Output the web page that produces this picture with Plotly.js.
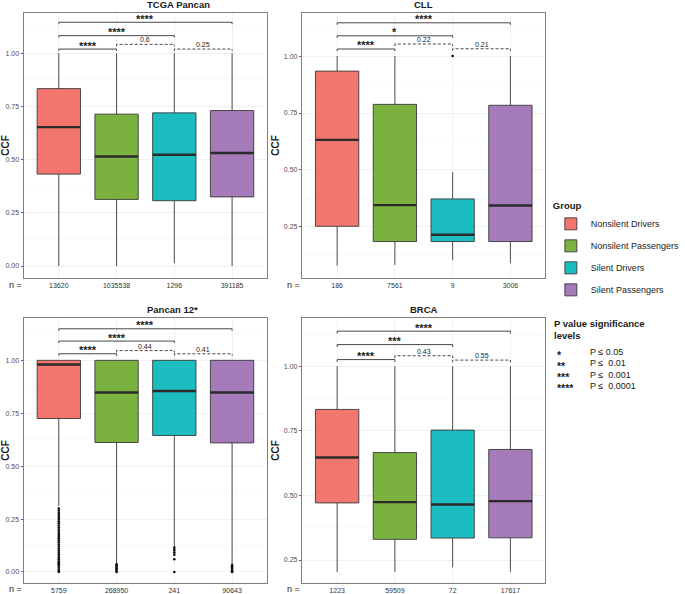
<!DOCTYPE html>
<html>
<head>
<meta charset="utf-8">
<script src="https://cdn.plot.ly/plotly-3.0.1.min.js"></script>
<style>html,body{margin:0;padding:0;background:#fff;}#chart{width:685px;height:594px;}</style>
</head>
<body>
<div id="chart"></div>
<script>
// ---------- data ----------
const groups = ['Nonsilent Drivers', 'Nonsilent Passengers', 'Silent Drivers', 'Silent Passengers'];
const groupColors = ['#F2766E', '#7BB13E', '#1BBDC1', '#A57BB9'];
const panelTitles = ['TCGA Pancan', 'CLL', 'Pancan 12*', 'BRCA'];

// TCGA Pancan
const tcgaN = ['13620', '1035538', '1296', '391185'];
const tcgaLow = [0.0, 0.0, 0.013, 0.0];
const tcgaQ1 = [0.432, 0.313, 0.307, 0.325];
const tcgaMedian = [0.653, 0.515, 0.523, 0.531];
const tcgaQ3 = [0.834, 0.714, 0.720, 0.731];
const tcgaHigh = [1.0, 1.0, 1.0, 1.0];
const tcgaOutliers = [[], [], [], []];
const tcgaBracketY = [1.020, 1.083, 1.146, 1.042, 1.020];
const tcgaBracketLabel = ['****', '****', '****', '0.6', '0.25'];

// CLL
const cllN = ['186', '7561', '9', '3006'];
const cllLow = [0.080, 0.083, 0.104, 0.091];
const cllQ1 = [0.253, 0.186, 0.186, 0.186];
const cllMedian = [0.632, 0.346, 0.216, 0.344];
const cllQ3 = [0.934, 0.788, 0.373, 0.784];
const cllHigh = [1.0, 1.0, 0.491, 1.0];
const cllOutliers = [[], [], [1.0], []];
const cllBracketY = [1.031, 1.089, 1.146, 1.053, 1.032];
const cllBracketLabel = ['****', '*', '****', '0.22', '0.21'];

// Pancan 12*
const p12N = ['5759', '268950', '241', '90643'];
const p12Low = [0.311, 0.040, 0.120, 0.036];
const p12Q1 = [0.725, 0.612, 0.645, 0.610];
const p12Median = [0.980, 0.848, 0.855, 0.848];
const p12Q3 = [1.0, 1.0, 1.0, 1.0];
const p12High = [1.0, 1.0, 1.0, 1.0];
const p12OutND = [0.30, 0.29, 0.28, 0.27, 0.26, 0.25, 0.24, 0.23, 0.22, 0.21, 0.20, 0.19, 0.18, 0.17, 0.16, 0.15, 0.14, 0.13, 0.12, 0.11, 0.10, 0.09, 0.08, 0.07, 0.06, 0.05, 0.045, 0.04, 0.035, 0.03, 0.02, 0.01, 0.005, 0.0];
const p12OutNP = [0.036, 0.030, 0.024, 0.018, 0.012, 0.006, 0.0];
const p12OutSD = [0.115, 0.104, 0.093, 0.082, 0.060, 0.0];
const p12OutSP = [0.033, 0.027, 0.021, 0.015, 0.009, 0.004, 0.0];
const p12Outliers = [p12OutND, p12OutNP, p12OutSD, p12OutSP];
const p12BracketY = [1.031, 1.091, 1.149, 1.046, 1.031];
const p12BracketLabel = ['****', '****', '****', '0.44', '0.41'];

// BRCA
const brcaN = ['1223', '59509', '72', '17617'];
const brcaLow = [0.204, 0.204, 0.222, 0.204];
const brcaQ1 = [0.471, 0.330, 0.335, 0.336];
const brcaMedian = [0.647, 0.474, 0.465, 0.478];
const brcaQ3 = [0.833, 0.666, 0.753, 0.678];
const brcaHigh = [1.0, 1.0, 1.0, 1.0];
const brcaOutliers = [[], [], [], []];
const brcaBracketY = [1.026, 1.084, 1.136, 1.041, 1.024];
const brcaBracketLabel = ['****', '***', '****', '0.43', '0.55'];

// bracket pairs (group indices), shared by all panels
const bracketFrom = [0, 0, 0, 1, 2];
const bracketTo = [1, 2, 3, 2, 3];

// significance legend
const sigStars = ['*', '**', '***', '****'];
const sigText = ['P \u2264 0.05', 'P \u2264  0.01', 'P \u2264  0.001', 'P \u2264  0.0001'];

// ---------- layout constants (styling only) ----------
const W = 685, H = 594;
const FONT = 'Liberation Sans, Arial, Helvetica, sans-serif';
const xDom = [[25, 276], [313, 564], [25, 276], [313, 564]];
const yDomPx = [[13, 278], [13, 278], [318, 583], [318, 583]];
const nLabelY = [285, 285, 589, 589];
const yRanges = [[-0.0564, 1.1895], [0.026, 1.189], [-0.052, 1.200], [0.161, 1.187]];
const BOXW = 0.75, TIP = 0.009;

const panels = [
  {n: tcgaN, low: tcgaLow, q1: tcgaQ1, med: tcgaMedian, q3: tcgaQ3, high: tcgaHigh, out: tcgaOutliers, by: tcgaBracketY, bl: tcgaBracketLabel},
  {n: cllN, low: cllLow, q1: cllQ1, med: cllMedian, q3: cllQ3, high: cllHigh, out: cllOutliers, by: cllBracketY, bl: cllBracketLabel},
  {n: p12N, low: p12Low, q1: p12Q1, med: p12Median, q3: p12Q3, high: p12High, out: p12Outliers, by: p12BracketY, bl: p12BracketLabel},
  {n: brcaN, low: brcaLow, q1: brcaQ1, med: brcaMedian, q3: brcaQ3, high: brcaHigh, out: brcaOutliers, by: brcaBracketY, bl: brcaBracketLabel}
];

const traces = [];
const annotations = [];
const layout = {
  width: W, height: H,
  margin: {l: 0, r: 0, t: 0, b: 0},
  paper_bgcolor: '#ffffff', plot_bgcolor: '#ffffff',
  font: {family: FONT, color: '#1a1a1a'},
  showlegend: true,
  legend: {
    x: 570 / W, xanchor: 'left', y: 1 - 197 / H, yanchor: 'top',
    title: {text: '<b>Group</b>', font: {size: 9.5, color: '#1a1a1a'}},
    font: {size: 9, color: '#1a1a1a'},
    tracegroupgap: 3, bgcolor: 'rgba(0,0,0,0)'
  },
  annotations: annotations
};

panels.forEach((p, k) => {
  const ax = k === 0 ? '' : String(k + 1);
  const xr = 'x' + ax, yr = 'y' + ax;
  // boxes
  groups.forEach((g, i) => {
    traces.push({
      type: 'box', name: g, x: [i], xaxis: xr, yaxis: yr,
      q1: [p.q1[i]], median: [p.med[i]], q3: [p.q3[i]],
      lowerfence: [p.low[i]], upperfence: [p.high[i]],
      width: BOXW, whiskerwidth: 0,
      fillcolor: groupColors[i],
      line: {color: '#3a3a3a', width: 0.9},
      boxpoints: false, hoverinfo: 'skip',
      legendgroup: g, showlegend: k === 0
    });
  });
  // thick medians
  const mx = [], my = [];
  groups.forEach((g, i) => { mx.push(i - BOXW / 2, i + BOXW / 2, null); my.push(p.med[i], p.med[i], null); });
  traces.push({type: 'scatter', mode: 'lines', x: mx, y: my, xaxis: xr, yaxis: yr,
    line: {color: '#2b2b2b', width: 2.4}, showlegend: false, hoverinfo: 'skip'});
  // outliers
  groups.forEach((g, i) => {
    if (p.out[i].length) {
      traces.push({type: 'scatter', mode: 'markers', x: p.out[i].map(() => i), y: p.out[i],
        xaxis: xr, yaxis: yr, marker: {color: '#111', size: 2.6}, showlegend: false, hoverinfo: 'skip'});
    }
  });
  // brackets
  bracketFrom.forEach((f, j) => {
    const t = bracketTo[j], yv = p.by[j], lab = p.bl[j];
    const sig = lab.charAt(0) === '*';
    traces.push({type: 'scatter', mode: 'lines', x: [f, f, t, t], y: [yv - TIP, yv, yv, yv - TIP],
      xaxis: xr, yaxis: yr, line: {color: '#333', width: 0.9, dash: sig ? 'solid' : '3px,2px'},
      showlegend: false, hoverinfo: 'skip'});
    annotations.push({xref: xr, yref: yr, x: (f + t) / 2, y: yv, text: sig ? '<b>' + lab + '</b>' : lab,
      showarrow: false, xanchor: 'center', yanchor: 'bottom', yshift: sig ? -4.5 : -1,
      font: {size: sig ? 11 : 7, color: '#1a1a1a', family: FONT}});
  });
  // axes
  const xd = [xDom[k][0] / W, xDom[k][1] / W];
  const yd = [1 - yDomPx[k][1] / H, 1 - yDomPx[k][0] / H];
  layout['xaxis' + ax] = {
    domain: xd, anchor: yr, range: [-0.6, 3.6], tickmode: 'array', tickvals: [0, 1, 2, 3], ticktext: p.n,
    showgrid: true, gridcolor: '#ebebeb', gridwidth: 0.7, zeroline: false,
    showline: true, mirror: true, linecolor: '#7f7f7f', linewidth: 1.1,
    ticks: '', tickfont: {size: 7, color: '#333', family: FONT}
  };
  layout['yaxis' + ax] = {
    domain: yd, anchor: xr, range: yRanges[k], tick0: 0, dtick: 0.25, tickformat: '.2f',
    ticks: 'outside', ticklen: 2.5, tickwidth: 0.8, tickcolor: '#333',
    tickfont: {size: 7, color: '#4d4d4d', family: FONT},
    showgrid: true, gridcolor: '#ebebeb', gridwidth: 0.7, zeroline: false,
    minor: {dtick: 0.125, tick0: 0, showgrid: true, gridcolor: '#f3f3f3', gridwidth: 0.5, ticks: ''},
    showline: true, mirror: true, linecolor: '#7f7f7f', linewidth: 1.1,
    title: {text: '<b>CCF</b>', font: {size: 10, color: '#1a1a1a', family: FONT}, standoff: 2}
  };
  // panel title
  annotations.push({xref: 'paper', yref: 'paper', x: (xd[0] + xd[1]) / 2, y: yd[1], yanchor: 'bottom', yshift: 1,
    text: '<b>' + panelTitles[k] + '</b>', showarrow: false, font: {size: 9.5, color: '#1a1a1a', family: FONT}});
  // n =
  annotations.push({xref: 'paper', yref: 'paper', x: xDom[k][0] / W, xanchor: 'right', xshift: 0,
    y: 1 - nLabelY[k] / H, yanchor: 'middle',
    text: 'n =', showarrow: false, font: {size: 9, color: '#1a1a1a', family: FONT}});
});

// significance legend
annotations.push({xref: 'paper', yref: 'paper', x: 571 / W, y: 1 - 316 / H, xanchor: 'left', yanchor: 'top', align: 'left',
  text: '<b>P value significance<br>levels</b>', showarrow: false, font: {size: 9.5, color: '#1a1a1a', family: FONT}});
sigStars.forEach((s, i) => {
  const yy = 1 - (352 + i * 11.3) / H;
  annotations.push({xref: 'paper', yref: 'paper', x: 574 / W, y: yy, xanchor: 'left', yanchor: 'middle', yshift: -2.5,
    text: '<b>' + s + '</b>', showarrow: false, font: {size: 10.5, color: '#1a1a1a', family: FONT}});
  annotations.push({xref: 'paper', yref: 'paper', x: 608 / W, y: yy, xanchor: 'left', yanchor: 'middle',
    text: sigText[i], showarrow: false, font: {size: 9, color: '#1a1a1a', family: FONT}});
});

Plotly.newPlot('chart', traces, layout, {displayModeBar: false, staticPlot: true});
</script>
</body>
</html>
